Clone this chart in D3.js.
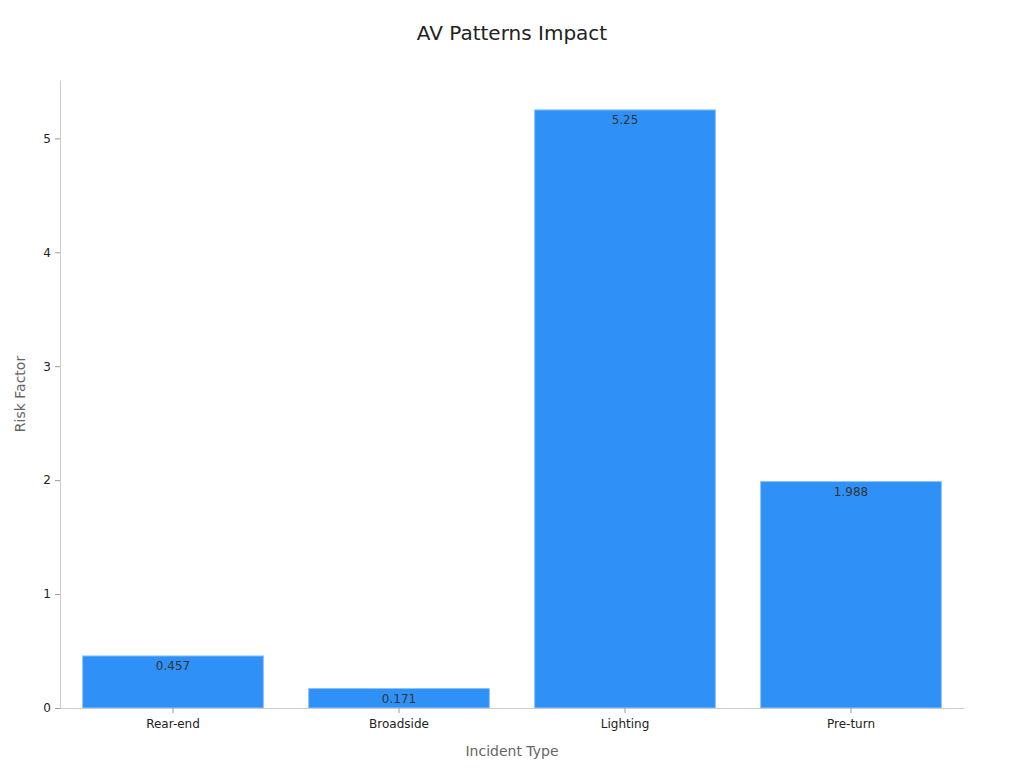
<!DOCTYPE html>
<html>
<head>
<meta charset="utf-8">
<script src="https://cdn.jsdelivr.net/npm/d3@7"></script>
<style>
  body { margin: 0; background: #fff; font-family: "DejaVu Sans", sans-serif; }
  .domain { stroke: #ccc; }
  .tick line { stroke: #999; }
  .tick text { fill: #222; font-size: 12px; }
  .bar { fill: #2f91f8; stroke: #8cc3fb; stroke-width: 1; }
  .bar-label { fill: #333; font-size: 12px; text-anchor: middle; }
  .axis-title { fill: #666; font-size: 14px; text-anchor: middle; }
  .title { fill: #222; font-size: 20px; text-anchor: middle; }
</style>
</head>
<body>
<svg id="chart" width="1024" height="768"></svg>
<script>
const categories = ["Rear-end", "Broadside", "Lighting", "Pre-turn"];
const values = [0.457, 0.171, 5.25, 1.988];
const labels = ["0.457", "0.171", "5.25", "1.988"];
const yTicks = [0, 1, 2, 3, 4, 5];

const dms = { width: 1024, height: 768, marginTop: 80, marginRight: 60, marginBottom: 60, marginLeft: 60 };
dms.boundedWidth = dms.width - dms.marginLeft - dms.marginRight;
dms.boundedHeight = dms.height - dms.marginTop - dms.marginBottom;

const svg = d3.select("#chart");
const bounds = svg.append("g")
  .attr("transform", `translate(${dms.marginLeft},${dms.marginTop})`);

// scales
const xScale = d3.scaleBand()
  .domain(categories)
  .range([0, dms.boundedWidth])
  .paddingInner(0.2)
  .paddingOuter(0.1);

const yScale = d3.scaleLinear()
  .domain([0, d3.max(values) * 1.05])
  .range([dms.boundedHeight, 0]);

// bars
bounds.selectAll(".bar")
  .data(values)
  .enter()
  .append("rect")
  .attr("class", "bar")
  .attr("x", (d, i) => xScale(categories[i]))
  .attr("width", xScale.bandwidth())
  .attr("y", d => yScale(d))
  .attr("height", d => yScale(0) - yScale(d));

bounds.selectAll(".bar-label")
  .data(values)
  .enter()
  .append("text")
  .attr("class", "bar-label")
  .attr("x", (d, i) => xScale(categories[i]) + xScale.bandwidth() / 2)
  .attr("y", d => yScale(d) + 14)
  .text((d, i) => labels[i]);

// axes
bounds.append("g")
  .attr("transform", `translate(0,${dms.boundedHeight})`)
  .call(d3.axisBottom(xScale).tickSize(5).tickSizeOuter(0).tickPadding(6));

bounds.append("g")
  .call(d3.axisLeft(yScale).tickValues(yTicks).tickFormat(d3.format("d")).tickSize(5).tickSizeOuter(0).tickPadding(4));

bounds.selectAll(".tick text").attr("font-family", "DejaVu Sans, sans-serif");

// titles
svg.append("text")
  .attr("class", "title")
  .attr("x", dms.width / 2)
  .attr("y", 40)
  .text("AV Patterns Impact");

svg.append("text")
  .attr("class", "axis-title")
  .attr("x", dms.marginLeft + dms.boundedWidth / 2)
  .attr("y", 756)
  .text("Incident Type");

svg.append("text")
  .attr("class", "axis-title")
  .attr("transform", `translate(25,${dms.marginTop + dms.boundedHeight / 2}) rotate(-90)`)
  .text("Risk Factor");
</script>
</body>
</html>
